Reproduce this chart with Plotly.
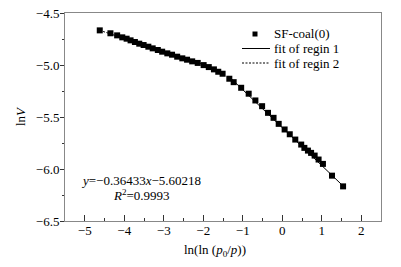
import plotly.graph_objects as go

# data
x_data = [-4.62, -4.35, -4.18, -4.05, -3.94, -3.84, -3.73, -3.62, -3.51, -3.39,
          -3.28, -3.15, -3.04, -2.91, -2.79, -2.66, -2.53, -2.41, -2.28, -2.14,
          -1.99, -1.86, -1.73, -1.62, -1.51, -1.34, -1.23, -1.04, -0.85, -0.68,
          -0.51, -0.36, -0.22, -0.09, 0.06, 0.19, 0.33, 0.48, 0.56, 0.65,
          0.73, 0.82, 0.92, 1.03, 1.26, 1.54]
y_data = [-4.667, -4.695, -4.715, -4.734, -4.747, -4.763, -4.779, -4.795, -4.808, -4.824,
          -4.840, -4.856, -4.872, -4.888, -4.901, -4.920, -4.936, -4.949, -4.965, -4.980,
          -5.001, -5.020, -5.042, -5.065, -5.084, -5.132, -5.165, -5.219, -5.276, -5.341,
          -5.396, -5.460, -5.508, -5.566, -5.620, -5.666, -5.717, -5.765, -5.797, -5.823,
          -5.845, -5.871, -5.909, -5.951, -6.064, -6.167]

fit1_slope, fit1_intercept = -0.36433, -5.60218
fit1_x = [-1.35, 1.54]
fit2_x = [-4.62, -2.0]
fit2_y = [-4.667, -4.995]
legend_labels = ["SF-coal(0)", "fit of regin 1", "fit of regin 2"]

fit1_y = [fit1_slope * v + fit1_intercept for v in fit1_x]

FONT = "Liberation Serif"
DASH = "2px,1.5px"

fig = go.Figure()
fig.add_trace(go.Scatter(x=fit2_x, y=fit2_y, mode="lines", name=legend_labels[2],
                         line=dict(color="black", width=1, dash=DASH)))
fig.add_trace(go.Scatter(x=fit1_x, y=fit1_y, mode="lines", name=legend_labels[1],
                         line=dict(color="black", width=1)))
fig.add_trace(go.Scatter(x=x_data, y=y_data, mode="markers", name=legend_labels[0],
                         marker=dict(symbol="square", size=6, color="black")))

axis_common = dict(showline=True, mirror=True, linecolor="#888", linewidth=1,
                   tickcolor="#333", showgrid=False,
                   zeroline=False, automargin=False,
                   tickfont=dict(family=FONT, size=13, color="black"))

fig.update_layout(
    width=401, height=267,
    margin=dict(l=65, r=20, t=13, b=46),
    paper_bgcolor="white", plot_bgcolor="white",
    font=dict(family=FONT, size=13, color="black"),
    showlegend=False,
    xaxis=dict(range=[-5.5, 2.5], dtick=1, tick0=0, ticks="inside", ticklen=6,
               ticklabelstandoff=-3,
               minor=dict(dtick=0.5, ticks="inside", ticklen=3, tickcolor="#333"),
               **axis_common),
    yaxis=dict(range=[-6.5, -4.5], dtick=0.5, tick0=0, tickformat=".1f",
               ticks="outside", ticklen=4, ticklabelstandoff=-2,
               minor=dict(dtick=0.25, ticks="outside", ticklen=2.5, tickcolor="#333"),
               title=dict(text="ln<i>V</i>", font=dict(size=13), standoff=7),
               **axis_common),
)

# pixel positions of the plot area converted to paper coords
L, R, T, B = 65, 381, 13, 221
def px(xp):
    return (xp - L) / (R - L)
def py(yp):
    return (B - yp) / (B - T)

# x-axis title (placed as annotation to match the reference offset)
fig.add_annotation(xref="paper", yref="paper", x=px(215), y=py(250), xanchor="center",
                   yanchor="middle", showarrow=False,
                   text="ln(ln (<i>p</i><sub>0</sub>/<i>p</i>))", font=dict(size=13))

# manual legend
rows = [34, 48.5, 63]
fig.add_shape(type="rect", xref="paper", yref="paper",
              x0=px(252.5), x1=px(257.5), y0=py(rows[0] + 2.5), y1=py(rows[0] - 2.5),
              fillcolor="black", line=dict(width=0))
fig.add_shape(type="line", xref="paper", yref="paper",
              x0=px(242), x1=px(270), y0=py(rows[1]), y1=py(rows[1]),
              line=dict(color="black", width=1))
fig.add_shape(type="line", xref="paper", yref="paper",
              x0=px(242), x1=px(270), y0=py(rows[2]), y1=py(rows[2]),
              line=dict(color="black", width=1, dash=DASH))
for r, lab in zip(rows, legend_labels):
    fig.add_annotation(xref="paper", yref="paper", x=px(272), y=py(r), xanchor="left",
                       yanchor="middle", showarrow=False, text=lab, font=dict(size=13))

fig.add_annotation(xref="paper", yref="paper", x=px(141), y=py(180), xanchor="center",
                   yanchor="middle", showarrow=False,
                   text="<i>y</i>=\u22120.36433<i>x</i>\u22125.60218", font=dict(size=13))
fig.add_annotation(xref="paper", yref="paper", x=px(141), y=py(195), xanchor="center",
                   yanchor="middle", showarrow=False,
                   text="<i>R</i><sup>2</sup>=0.9993", font=dict(size=13))

# remove the default page margin so the 401x267 figure fills the window exactly
fig.write_html("out.html", config={"displayModeBar": False},
               post_script="document.body.style.margin='0';")
